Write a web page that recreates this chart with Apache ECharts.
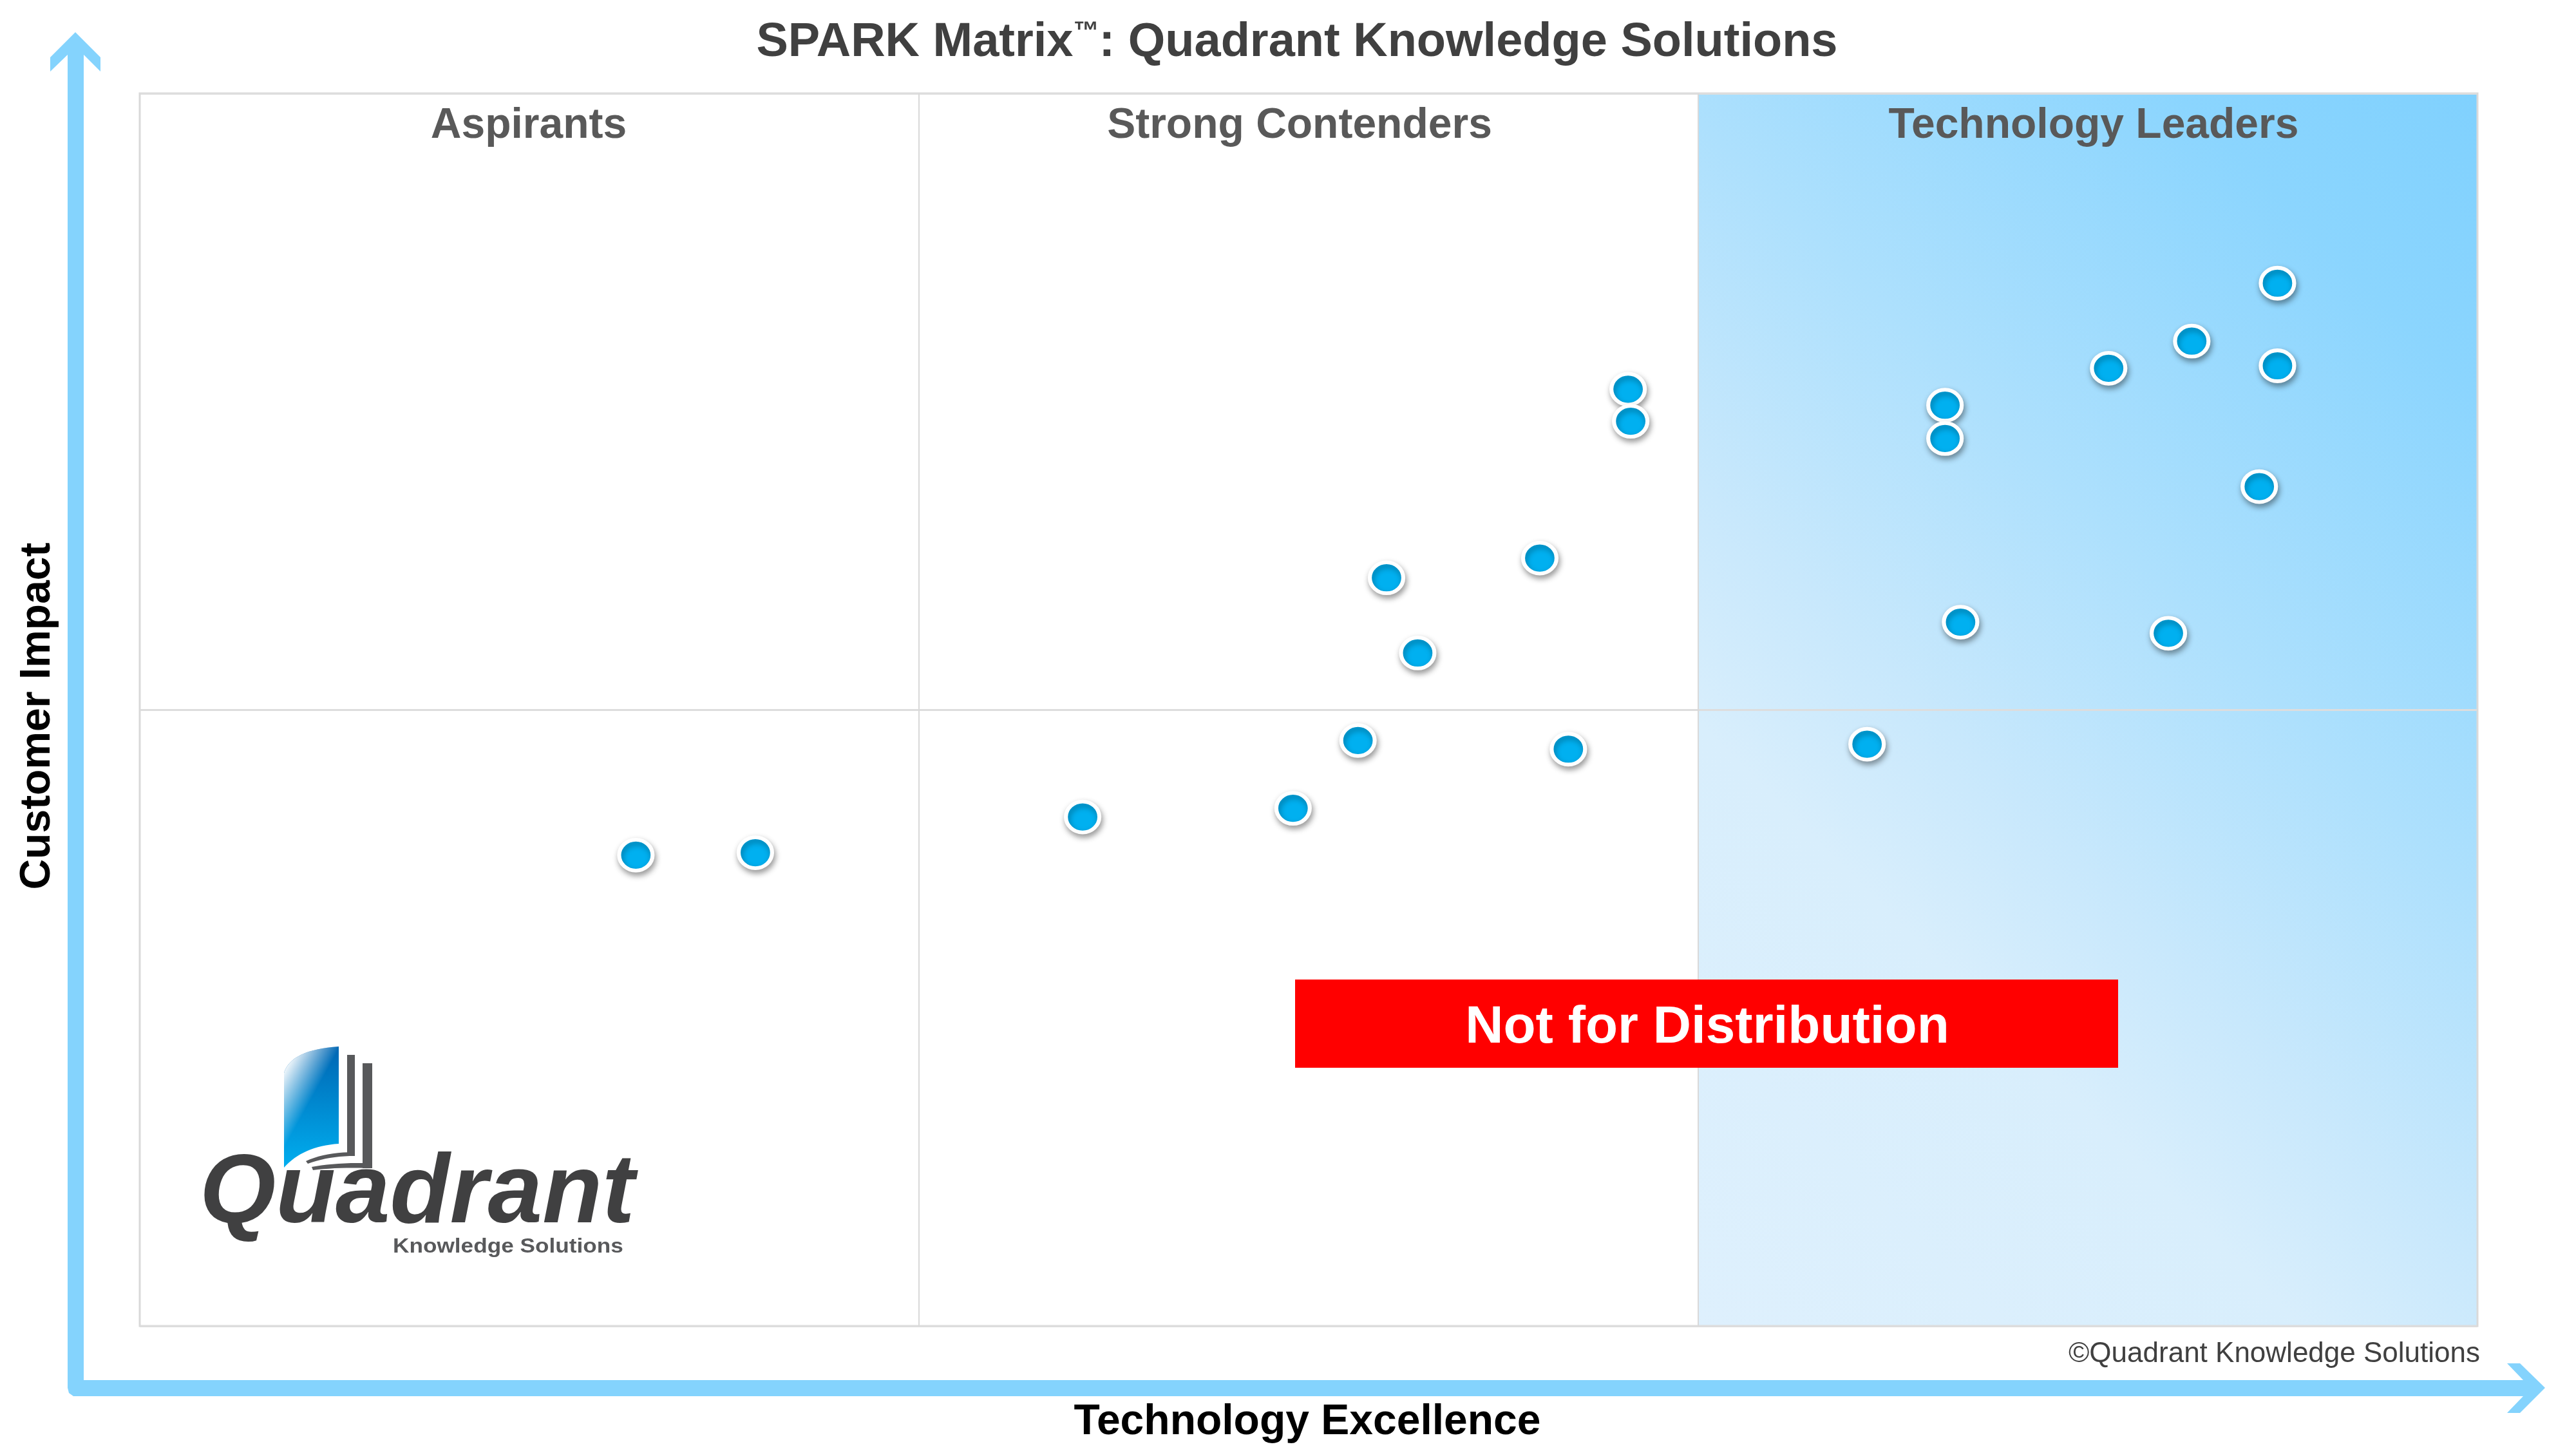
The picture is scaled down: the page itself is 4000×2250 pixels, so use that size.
<!DOCTYPE html>
<html><head><meta charset="utf-8">
<script src="https://cdn.jsdelivr.net/npm/echarts@6/dist/echarts.min.js"></script>
<style>html,body{margin:0;padding:0;background:#fff}#c{width:4000px;height:2250px}</style>
</head><body><div id="c"></div>
<script>
// ---- data ----
const techExcellence = [8.23, 7.90, 7.58, 8.23, 6.95, 6.95, 8.16, 7.01, 7.81, 6.65, 5.73, 5.74, 5.39, 4.80, 4.92, 4.69, 5.50, 4.44, 3.63, 1.91, 2.37];
const customerImpact = [8.46, 7.99, 7.77, 7.79, 7.47, 7.20, 6.81, 5.71, 5.62, 4.72, 7.60, 7.34, 6.23, 6.07, 5.46, 4.75, 4.68, 4.20, 4.13, 3.82, 3.84];
const quadrantX = [0, 3, 6, 9];
const quadrantY = [0, 5, 10];
const quadrantNames = ['Aspirants', 'Strong Contenders', 'Technology Leaders'];
const titleParts = ['SPARK Matrix', '™', ': Quadrant Knowledge Solutions'];
const xName = 'Technology Excellence';
const yName = 'Customer Impact';
const watermark = 'Not for Distribution';
const copyright = '©Quadrant Knowledge Solutions';
const logoWord = 'Quadrant';
const logoSub = 'Knowledge Solutions';

const FF = '"Liberation Sans", Arial, sans-serif';
const points = techExcellence.map((x, i) => [x, customerImpact[i]]);
const leadersZone = [[quadrantX[2], quadrantX[3], quadrantY[0], quadrantY[2]]];

// sample a quadratic bezier into polygon points
function quad(p0, c, p1, n) {
  const out = [];
  for (let i = 0; i <= n; i++) {
    const t = i / n, u = 1 - t;
    out.push([u * u * p0[0] + 2 * u * t * c[0] + t * t * p1[0], u * u * p0[1] + 2 * u * t * c[1] + t * t * p1[1]]);
  }
  return out;
}
const pagePts = [].concat(quad([441,1666],[452,1630],[526,1625],16), quad([526,1776],[470,1780],[441,1813],16));
const fold1 = [].concat(quad([475,1803],[505,1789],[551,1789],10), quad([551,1795],[510,1795],[478,1807],10));
const fold2 = [].concat(quad([484,1812],[520,1805],[578,1806],10), quad([578,1814],[525,1812],[486,1817],10));

const chart = echarts.init(document.getElementById('c'), null, {renderer: 'canvas'});
const arrowColor = '#84D3FD';

const option = {
  animation: false,
  backgroundColor: '#ffffff',
  grid: {left: 217, top: 145, width: 3630, height: 1914, show: true, borderColor: '#D9D9D9', borderWidth: 3, backgroundColor: 'transparent', containLabel: false},
  xAxis: {type: 'value', min: quadrantX[0], max: quadrantX[3], interval: 3,
    axisLine: {show: false}, axisTick: {show: false}, axisLabel: {show: false},
    splitLine: {show: true, lineStyle: {color: '#D9D9D9', width: 2}}},
  yAxis: {type: 'value', min: quadrantY[0], max: quadrantY[2], interval: 5,
    axisLine: {show: false}, axisTick: {show: false}, axisLabel: {show: false},
    splitLine: {show: true, lineStyle: {color: '#DDDDDD', width: 3}}},
  series: [
    {
      type: 'custom', z: -1, silent: true,
      data: leadersZone,
      renderItem: function (params, api) {
        const p1 = api.coord([api.value(0), api.value(3)]);
        const p2 = api.coord([api.value(1), api.value(2)]);
        const w = p2[0] - p1[0], h = p2[1] - p1[1];
        return {
          type: 'rect',
          shape: {x: p1[0], y: p1[1], width: w, height: h},
          style: {fill: {type: 'linear', x: 0, y: 1, x2: (w + h) / (2 * w), y2: 1 - (w + h) / (2 * h),
            colorStops: [
              {offset: 0, color: '#DEF0FD'},
              {offset: 0.3, color: '#D8EEFC'},
              {offset: 0.42, color: '#C8E8FC'},
              {offset: 0.6, color: '#ADE0FD'},
              {offset: 0.85, color: '#8BD5FE'},
              {offset: 1, color: '#80D1FE'}
            ]}}
        };
      }
    },
    {
      type: 'scatter', z: 5,
      data: points,
      symbol: 'circle',
      symbolSize: [52, 48],
      itemStyle: {color: '#00B0F0', opacity: 1, borderColor: '#FFFFFF', borderWidth: 6,
        shadowColor: 'rgba(0,0,0,0.35)', shadowBlur: 10, shadowOffsetX: 2, shadowOffsetY: 5}
    }
  ],
  graphic: [
    // axis arrows
    {type: 'polygon', z: 1, silent: true,
      shape: {points: [[117,50],[156,89],[156,111],[130,85],[130,2143],[3918,2143],[3893,2117],[3913,2117],[3952,2155],[3913,2194],[3893,2194],[3918,2168],[114,2168],[107,2163],[105,2155],[105,85],[78,111],[78,89]]},
      style: {fill: arrowColor}},
    // title
    {type: 'text', x: 2014, y: 67, z: 10,
      style: {text: '{a|' + titleParts[0] + '}{tm|' + titleParts[1] + '}{a|' + titleParts[2] + '}', align: 'center', verticalAlign: 'middle',
        rich: {a: {fontSize: 74, fontWeight: 'bold', fontFamily: FF, fill: '#404040', lineHeight: 74},
               tm: {fontSize: 40, fontWeight: 'bold', fontFamily: FF, fill: '#404040', verticalAlign: 'top', lineHeight: 40}}}},
    // quadrant labels
    {type: 'text', x: 821, y: 196, z: 10, style: {text: quadrantNames[0], align: 'center', verticalAlign: 'middle', fontSize: 66, fontWeight: 'bold', fontFamily: FF, fill: '#595959'}},
    {type: 'text', x: 2018, y: 196, z: 10, style: {text: quadrantNames[1], align: 'center', verticalAlign: 'middle', fontSize: 66, fontWeight: 'bold', fontFamily: FF, fill: '#595959'}},
    {type: 'text', x: 3251, y: 196, z: 10, style: {text: quadrantNames[2], align: 'center', verticalAlign: 'middle', fontSize: 66, fontWeight: 'bold', fontFamily: FF, fill: '#595959'}},
    // axis names
    {type: 'text', x: 2030, y: 2209, z: 10, style: {text: xName, align: 'center', verticalAlign: 'middle', fontSize: 66, fontWeight: 'bold', fontFamily: FF, fill: '#000000'}},
    {type: 'text', x: 59, y: 1112, rotation: Math.PI / 2, z: 10, style: {text: yName, align: 'center', verticalAlign: 'middle', fontSize: 66, fontWeight: 'bold', fontFamily: FF, fill: '#000000'}},
    // not for distribution
    {type: 'rect', z: 10, shape: {x: 2011, y: 1521, width: 1278, height: 137}, style: {fill: '#FF0000'}},
    {type: 'text', x: 2651, y: 1596, z: 11, style: {text: watermark, align: 'center', verticalAlign: 'middle', fontSize: 82, fontWeight: 'bold', fontFamily: FF, fill: '#FFFFFF'}},
    // copyright
    {type: 'text', x: 3851, y: 2103, z: 10, style: {text: copyright, align: 'right', verticalAlign: 'middle', fontSize: 44, fontFamily: FF, fill: '#404040'}},
    // logo
    {type: 'polygon', z: 10, shape: {points: pagePts},
      style: {fill: {type: 'linear', x: 0, y: 0, x2: 0, y2: 1, colorStops: [{offset: 0, color: '#0066B3'}, {offset: 1, color: '#00AEEF'}]}}},
    {type: 'polygon', z: 11, shape: {points: pagePts},
      style: {fill: {type: 'linear', x: 0, y: 0.2, x2: 0.6, y2: 0.35, colorStops: [{offset: 0, color: 'rgba(255,255,255,0.95)'}, {offset: 1, color: 'rgba(255,255,255,0)'}]}}},
    {type: 'rect', z: 10, shape: {x: 539, y: 1638, width: 12, height: 157}, style: {fill: '#58595B'}},
    {type: 'rect', z: 10, shape: {x: 563, y: 1651, width: 15, height: 163}, style: {fill: '#58595B'}},
    {type: 'polygon', z: 10, shape: {points: fold1}, style: {fill: '#58595B'}},
    {type: 'polygon', z: 10, shape: {points: fold2}, style: {fill: '#58595B'}},
    {type: 'text', x: 310, y: 1856, z: 12, style: {text: logoWord, align: 'left', verticalAlign: 'middle', fontSize: 152, fontStyle: 'italic', fontWeight: 'bold', fontFamily: FF, fill: '#404041'}},
    {type: 'text', x: 610, y: 1936, z: 12, scaleX: 1.1, style: {text: logoSub, align: 'left', verticalAlign: 'middle', fontSize: 32, fontWeight: 'bold', fontFamily: FF, fill: '#58595B'}}
  ]
};
chart.setOption(option);
</script></body></html>
